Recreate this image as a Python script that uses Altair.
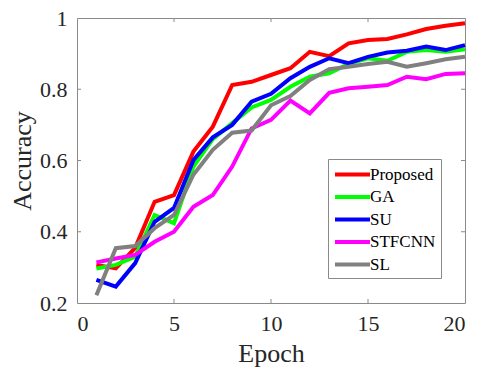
import altair as alt
import pandas as pd

epochs = list(range(1, 21))
proposed = [0.307, 0.297, 0.355, 0.484, 0.503, 0.625, 0.695, 0.812, 0.821, 0.840,
            0.859, 0.905, 0.893, 0.929, 0.938, 0.941, 0.954, 0.969, 0.978, 0.985]
ga = [0.297, 0.307, 0.330, 0.447, 0.424, 0.583, 0.660, 0.705, 0.749, 0.770,
      0.807, 0.835, 0.845, 0.871, 0.887, 0.880, 0.905, 0.910, 0.905, 0.912]
su = [0.265, 0.246, 0.312, 0.428, 0.467, 0.601, 0.665, 0.700, 0.765, 0.787,
      0.831, 0.863, 0.887, 0.873, 0.891, 0.903, 0.908, 0.920, 0.910, 0.924]
stfcnn = [0.314, 0.325, 0.335, 0.372, 0.400, 0.470, 0.503, 0.583, 0.690, 0.714,
          0.768, 0.732, 0.790, 0.803, 0.807, 0.812, 0.835, 0.828, 0.843, 0.845]
sl = [0.222, 0.354, 0.360, 0.410, 0.447, 0.560, 0.630, 0.678, 0.684, 0.755,
      0.781, 0.826, 0.856, 0.863, 0.871, 0.877, 0.863, 0.873, 0.884, 0.891]

series_names = ["Proposed", "GA", "SU", "STFCNN", "SL"]
series_colors = ["#ff0000", "#00ff00", "#0000ff", "#ff00ff", "#808080"]
x_ticks = [0, 5, 10, 15, 20]
y_ticks = [0.2, 0.4, 0.6, 0.8, 1.0]

rows = []
for i, (name, vals) in enumerate(zip(series_names, [proposed, ga, su, stfcnn, sl])):
    for e, v in zip(epochs, vals):
        rows.append({"Epoch": e, "Accuracy": v, "Method": name, "k": i})
df = pd.DataFrame(rows)

W, H = 388, 285
FONT = "Liberation Serif"
FRAME = "#8a8a8a"
TXT = "#262626"

xs = alt.Scale(domain=[0, 20], nice=False)
ys = alt.Scale(domain=[0.2, 1.0], nice=False)
xa = alt.Axis(values=x_ticks, title="Epoch", labelPadding=10, titlePadding=6)
ya = alt.Axis(values=y_ticks, format="~g", title="Accuracy", labelPadding=10, titlePadding=4)

lines = alt.Chart(df).mark_line(strokeWidth=4).encode(
    x=alt.X("Epoch:Q", scale=xs, axis=xa),
    y=alt.Y("Accuracy:Q", scale=ys, axis=ya),
    color=alt.Color("Method:N",
                    scale=alt.Scale(domain=series_names, range=series_colors),
                    legend=alt.Legend(orient="none", legendX=251, legendY=141, title=None,
                                      symbolType="M-2.06,0H2.06", symbolSize=289,
                                      symbolOffset=9, symbolStrokeWidth=4,
                                      labelFont=FONT, labelFontSize=17,
                                      labelColor="#000000", labelOffset=7,
                                      padding=5, rowPadding=3.5,
                                      strokeColor=FRAME, fillColor="#ffffff")),
    order=alt.Order("k:Q"),
)

xt = pd.DataFrame({"v": x_ticks[1:-1]})
yt = pd.DataFrame({"v": y_ticks[1:-1]})

bottom = alt.Chart(xt).mark_rule(color=FRAME).encode(
    x=alt.X("v:Q", scale=xs, axis=xa), y=alt.value(H), y2=alt.value(H - 4))
top = alt.Chart(xt).mark_rule(color=FRAME).encode(
    x=alt.X("v:Q", scale=xs, axis=xa), y=alt.value(0), y2=alt.value(4))
left = alt.Chart(yt).mark_rule(color=FRAME).encode(
    y=alt.Y("v:Q", scale=ys, axis=ya), x=alt.value(0), x2=alt.value(4))
right = alt.Chart(yt).mark_rule(color=FRAME).encode(
    y=alt.Y("v:Q", scale=ys, axis=ya), x=alt.value(W), x2=alt.value(W - 4))

chart = alt.layer(lines, bottom, top, left, right).properties(
    width=W, height=H, autosize="none",
    padding={"left": 69, "top": 10, "right": 6, "bottom": 80},
).configure_view(
    stroke=FRAME, strokeWidth=1
).configure_axis(
    labelFont=FONT, labelFontSize=22, labelColor=TXT,
    titleFont=FONT, titleFontSize=26, titleFontWeight="normal", titleColor=TXT,
    domain=False, ticks=False, grid=False
)

chart.save("out.html", embed_options={"renderer": "svg", "actions": False})
